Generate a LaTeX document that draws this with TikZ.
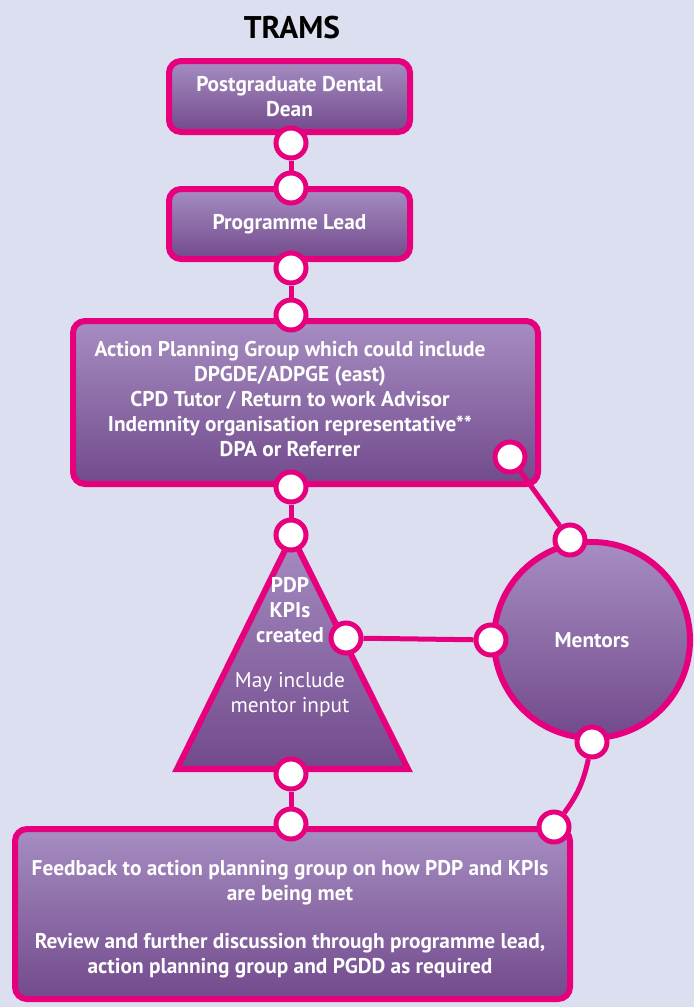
\documentclass[tikz,border=0pt]{standalone}
\usepackage{fontspec}
\setmainfont{PT Sans}
\usepackage{xcolor}
\definecolor{tramsPink}{HTML}{E6007E}
\definecolor{tramsBack}{HTML}{DCDFEF}
\definecolor{tramsTop}{HTML}{A68DC2}
\definecolor{tramsBottom}{HTML}{724A8C}
\usetikzlibrary{positioning,shapes.geometric}

\begin{document}
\begin{tikzpicture}[x=0.75pt, y=-0.75pt,
    every node/.style={font=\bfseries\fontsize{16}{18.75}\selectfont, text=white},
    stage/.style={draw=tramsPink, line width=4.5pt, rounded corners=9pt,
                  top color=tramsTop, bottom color=tramsBottom,
                  align=center, inner sep=0pt},
    wedge/.style={draw=tramsPink, line width=4.5pt, line join=miter,
                  top color=tramsTop, bottom color=tramsBottom},
    hub/.style={circle, draw=tramsPink, line width=4.5pt,
                top color=tramsTop, bottom color=tramsBottom,
                minimum size=147pt, inner sep=0pt},
    joint/.style={circle, draw=tramsPink, fill=white, line width=3.75pt,
                  minimum size=22.5pt, inner sep=0pt},
    link/.style={draw=tramsPink, line width=3.75pt}]
  \fill[tramsBack] (0,0) rectangle (694,1007);
  \node[text=black, font=\bfseries\fontsize{23.5}{26}\selectfont] (title) at (292,28) {TRAMS};
  % boxes
  \node[stage, minimum width=180.75pt, minimum height=53.25pt] (dean) at (289.5,96.5)
       {Postgraduate Dental\\Dean};
  \node[stage, minimum width=180.75pt, minimum height=52.5pt] (lead) at (289.5,224)
       {Programme Lead};
  \node[stage, minimum width=348.75pt, minimum height=122.25pt] (apg) at (305.5,402.5) {};
  \node[align=center] (apgtext) at (290,399)
       {Action Planning Group which could include\\DPGDE/ADPGE (east)\\CPD Tutor / Return to work Advisor\\Indemnity organisation representative**\\DPA or Referrer};
  \coordinate (tA) at (292,536);
  \coordinate (tL) at (177,769);
  \coordinate (tR) at (408,769);
  \draw[wedge] (tA) -- (tR) -- (tL) -- cycle;
  \node[align=center] (pdp) at (290,647.5)
       {PDP\\KPIs\\created\\[15pt]{\normalfont May include}\\{\normalfont mentor input}};
  \node[hub] (mentors) at (592,640) {Mentors};
  \node[stage, minimum width=416.25pt, minimum height=127.5pt] (review) at (292.5,914) {};
  \node[align=center] (reviewtext) at (290,919)
       {Feedback to action planning group on how PDP and KPIs\\are being met\\[17pt]Review and further discussion through programme lead,\\action planning group and PGDD as required};
  % joints
  \node[joint] (j1) at (291,143) {};
  \node[joint] (j2) at (291,188) {};
  \node[joint] (j3) at (291,268) {};
  \node[joint] (j4) at (291,315) {};
  \node[joint] (j5) at (291,487) {};
  \node[joint] (j6) at (291,535) {};
  \node[joint] (jr) at (510,457) {};
  \node[joint] (mt) at (570,540) {};
  \node[joint] (tr) at (346,638) {};
  \node[joint] (ml) at (491,640) {};
  \node[joint] (mb) at (592,742) {};
  \node[joint] (j7) at (291,774) {};
  \node[joint] (j8) at (291,824) {};
  \node[joint] (br) at (554,827) {};
  % links
  \draw[link] (j1) -- (j2);
  \draw[link] (j3) -- (j4);
  \draw[link] (j5) -- (j6);
  \draw[link] (j7) -- (j8);
  \draw[link] (jr) -- (mt);
  \draw[link] (tr) -- (ml);
  \draw[link] (mb) to[bend left=12] (br);
\end{tikzpicture}
\end{document}
